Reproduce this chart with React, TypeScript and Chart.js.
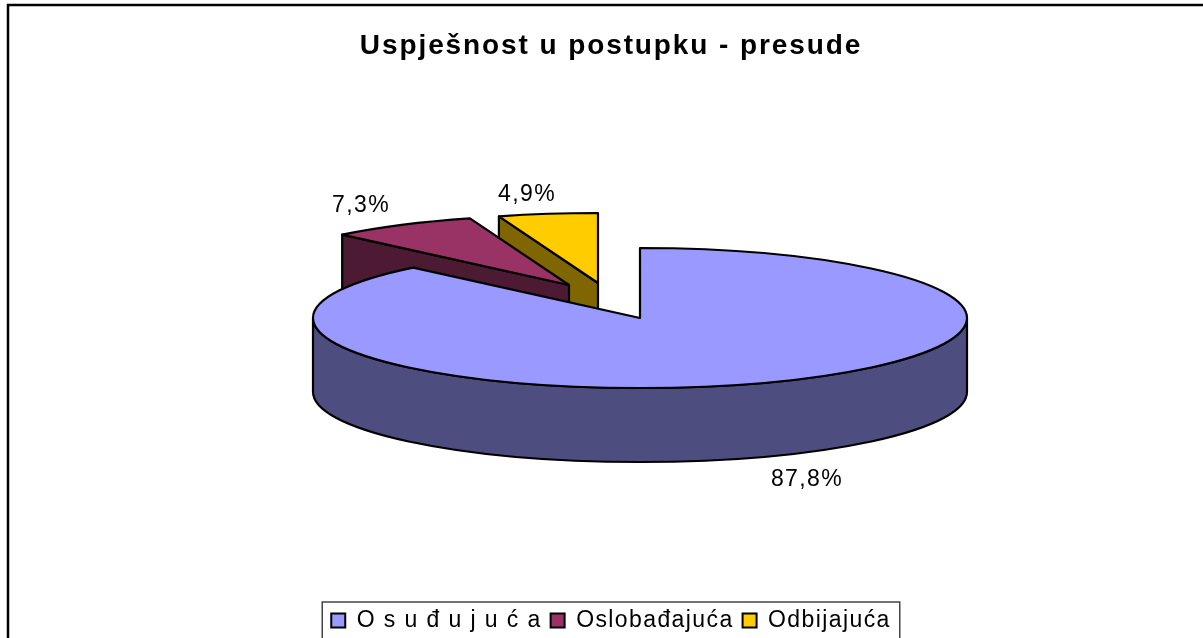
import React, { useEffect, useRef } from "react";
import { Chart, registerables } from "chart.js";

Chart.register(...registerables);

const categories = ["O s u đ u j u ć a", "Oslobađajuća", "Odbijajuća"];
const shares = [87.8, 7.3, 4.9];
const chartTitle = "Uspješnost u postupku - presude";

const topColors = ["#9999FF", "#993366", "#FFCC00"];
const wallColors = ["#4D4D80", "#4D1A33", "#806600"];
const explodeX = [0, -71, -42];
const explodeY = [0, -33, -35];
const labelX = [807, 361, 527];
const labelY = [480, 206, 195];

const CX = 640, CY = 318, RX = 327, RY = 70, DEPTH = 74;

const pie3d = {
  id: "pie3d",
  afterInit(chart: any) {
    const tb = chart.titleBlock;
    const drawTitle = tb.draw.bind(tb);
    tb.draw = () => {
      chart.ctx.letterSpacing = "1.9px";
      drawTitle();
      chart.ctx.letterSpacing = "1.4px";
    };
  },
  beforeUpdate(chart: any) { chart.ctx.letterSpacing = "1.4px"; },
  beforeDraw(chart: any) {
    const ctx = chart.ctx;
    ctx.letterSpacing = "1.4px";
    ctx.save();
    ctx.fillStyle = "#fff";
    ctx.fillRect(0, 0, chart.width, chart.height);
    ctx.strokeStyle = "#000";
    ctx.lineWidth = 2.5;
    ctx.strokeRect(8, 5, chart.width + 20, chart.height + 20);
    const boxes = chart.legend.legendHitBoxes;
    const first = boxes[0];
    const last = boxes[boxes.length - 1];
    const left = first.left - 9;
    const right = last.left + last.width + 9;
    const top = chart.legend.top + 2;
    ctx.strokeStyle = "#444";
    ctx.lineWidth = 1.5;
    ctx.beginPath();
    ctx.moveTo(left, chart.height + 5);
    ctx.lineTo(left, top);
    ctx.lineTo(right, top);
    ctx.lineTo(right, chart.height + 5);
    ctx.stroke();
    ctx.restore();
  },
  beforeDatasetsDraw(chart: any) {
    const ctx = chart.ctx;
    const arcs = chart.getDatasetMeta(0).data;
    ctx.save();
    ctx.lineWidth = 2.2;
    ctx.strokeStyle = "#000";
    ctx.lineJoin = "round";
    for (const i of [2, 1, 0]) {
      const { startAngle, endAngle } = arcs[i];
      const x = CX + explodeX[i];
      const y = CY + explodeY[i];
      ctx.fillStyle = wallColors[i];
      ctx.beginPath();
      if (i === 0) {
        ctx.ellipse(x, y, RX, RY, 0, 0, Math.PI);
        ctx.ellipse(x, y + DEPTH, RX, RY, 0, Math.PI, 0, true);
        ctx.closePath();
      } else {
        const sx = x + RX * Math.cos(startAngle);
        const sy = y + RY * Math.sin(startAngle);
        ctx.moveTo(sx, sy);
        ctx.lineTo(x, y);
        ctx.lineTo(x, y + DEPTH);
        ctx.lineTo(sx, sy + DEPTH);
        ctx.closePath();
      }
      ctx.fill();
      ctx.stroke();

      ctx.fillStyle = topColors[i];
      ctx.beginPath();
      ctx.moveTo(x, y);
      ctx.ellipse(x, y, RX, RY, 0, startAngle, endAngle);
      ctx.closePath();
      ctx.fill();
      ctx.stroke();
    }
    ctx.restore();

    ctx.save();
    ctx.font = "23px 'Liberation Sans'";
    ctx.letterSpacing = "1.4px";
    ctx.fillStyle = "#000";
    ctx.textAlign = "center";
    ctx.textBaseline = "middle";
    shares.forEach((v, i) => {
      ctx.fillText(v.toFixed(1).replace(".", ",") + "%", labelX[i], labelY[i]);
    });
    ctx.restore();
    return false;
  },
};

export default function App() {
  const ref = useRef<HTMLCanvasElement>(null);
  useEffect(() => {
    const chart = new Chart(ref.current!, {
      type: "pie",
      data: {
        labels: categories,
        datasets: [{ data: shares, backgroundColor: topColors, borderColor: "#000", borderWidth: 2 }],
      },
      options: {
        responsive: false,
        animation: false,
        plugins: {
          tooltip: { enabled: false },
          title: {
            display: true,
            text: chartTitle,
            color: "#000",
            font: { family: "'Liberation Sans'", size: 28, weight: "bold" },
            padding: { top: 29, bottom: 10 },
          },
          legend: {
            display: true,
            position: "bottom",
            labels: {
              color: "#000",
              font: { family: "'Liberation Sans'", size: 23 },
              boxWidth: 14,
              boxHeight: 14,
              padding: 9,
            },
          },
        },
      },
      plugins: [pie3d],
    } as any);
    return () => chart.destroy();
  }, []);
  return (
    <div style={{ position: "fixed", left: 0, top: 0, width: 1203, height: 638, overflow: "hidden", background: "#fff" }}>
      <canvas ref={ref} width={1222} height={642} style={{ display: "block" }} />
    </div>
  );
}
